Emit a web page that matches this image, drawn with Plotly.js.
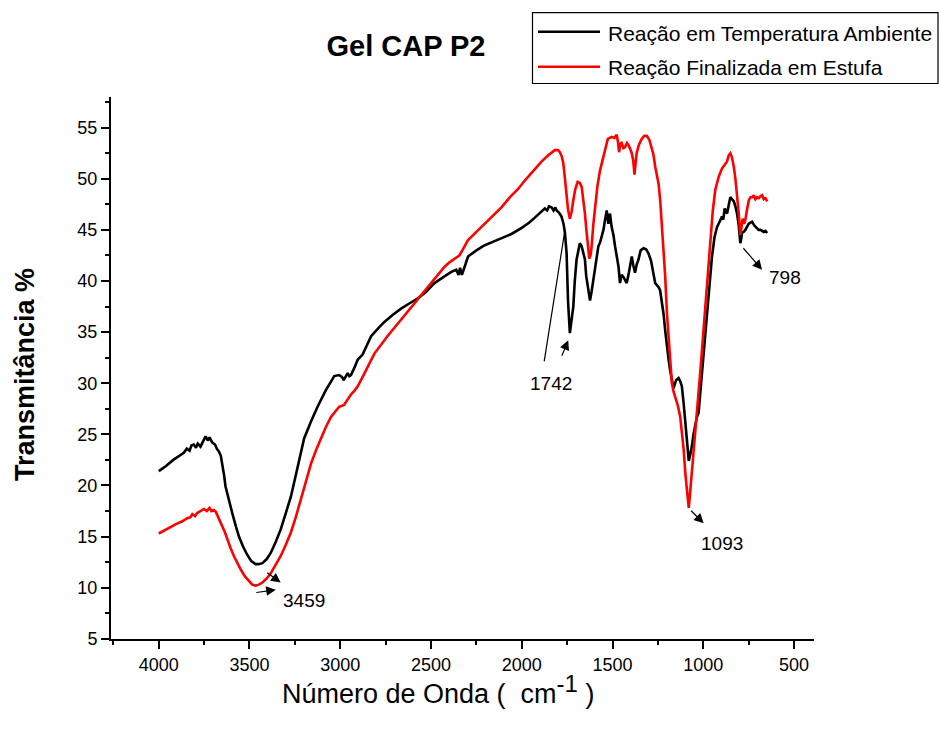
<!DOCTYPE html>
<html>
<head>
<meta charset="utf-8">
<script src="https://cdn.plot.ly/plotly-3.0.1.min.js"></script>
<style>html,body{margin:0;padding:0;background:#fff;}#chart{width:939px;height:729px;}</style>
</head>
<body>
<div id="chart"></div>
<script>
// ---------- DATA ----------
const seriesNames = ['Reação em Temperatura Ambiente', 'Reação Finalizada em Estufa'];

const ambWave = [4000,3960,3920,3880,3862,3845,3830,3820,3807,3795,3785,3770,3755,3742,3730,3720,3705,3690,3680,3668,3658,3650,3640,3632,3615,3595,3575,3558,3535,3512,3490,3466,3450,3429,3405,3383,3355,3328,3300,3272,3245,3217,3199,3160,3125,3080,3033,3006,2990,2981,2970,2959,2950,2941,2920,2904,2877,2850,2830,2790,2757,2710,2665,2620,2572,2530,2481,2430,2388,2361,2348,2340,2330,2322,2296,2250,2204,2150,2112,2057,2000,1960,1928,1900,1873,1860,1850,1836,1825,1815,1808,1795,1781,1770,1762,1753,1745,1735,1725,1716,1708,1698,1690,1680,1670,1660,1652,1645,1633,1624,1615,1606,1592,1578,1568,1560,1550,1541,1532,1523,1514,1505,1495,1486,1475,1467,1459,1450,1440,1430,1422,1412,1403,1394,1385,1376,1367,1357,1345,1329,1315,1302,1288,1274,1265,1256,1246,1238,1228,1219,1210,1201,1191,1182,1173,1164,1150,1136,1127,1118,1108,1099,1090,1080,1072,1063,1054,1044,1035,1026,1017,1007,995,980,966,952,938,924,910,897,890,882,875,869,860,851,842,832,823,814,805,796,790,787,778,768,750,731,718,704,695,685,676,667,657,648];
const ambT = [21.4,21.9,22.5,23.0,23.2,23.6,23.4,23.9,24.0,23.7,24.1,23.8,24.3,24.8,24.4,24.7,24.2,24.0,23.6,23.3,22.9,22.2,21.0,19.9,18.6,17.3,16.0,15.0,14.0,13.2,12.6,12.3,12.3,12.4,12.8,13.4,14.5,15.7,17.3,18.9,21.0,23.2,24.6,26.3,27.7,29.3,30.7,30.8,30.6,30.3,30.6,31.0,30.7,30.8,31.6,32.3,32.8,33.8,34.6,35.4,36.0,36.7,37.3,37.8,38.3,38.9,39.8,40.4,40.9,41.1,40.6,41.3,40.6,41.0,42.4,43.0,43.5,43.9,44.2,44.6,45.2,45.7,46.2,46.7,47.1,46.9,47.3,47.2,46.9,47.2,46.9,46.7,46.3,45.6,44.7,42.7,38.0,34.9,36.2,37.5,40.0,42.1,42.8,43.7,43.4,42.8,42.1,40.5,38.8,38.1,39.0,40.1,42.0,43.4,43.8,44.3,45.0,46.0,46.9,45.6,46.6,45.3,44.5,43.4,42.4,41.4,39.8,40.6,40.4,40.0,39.8,40.6,41.4,42.4,41.5,40.8,41.6,42.1,43.0,43.2,43.1,42.7,42.0,40.8,39.8,39.6,39.4,39.1,38.0,36.8,35.2,33.6,32.3,31.2,30.2,29.5,30.3,30.5,30.2,29.7,28.0,26.1,24.2,22.4,23.0,23.8,25.0,26.1,26.7,27.1,29.0,31.0,33.8,36.8,39.6,42.4,44.3,45.3,45.8,46.3,46.0,47.1,46.8,46.6,47.4,48.2,48.0,47.8,47.3,46.6,45.5,43.7,44.2,44.7,44.8,45.0,45.6,45.8,45.4,45.2,45.0,45.0,44.9,44.8,44.9,44.7];

const estWave = [4000,3950,3908,3870,3843,3825,3815,3800,3788,3770,3751,3735,3720,3710,3696,3685,3677,3665,3650,3635,3622,3605,3586,3570,3549,3525,3503,3485,3466,3448,3429,3405,3383,3355,3328,3300,3272,3245,3217,3190,3160,3130,3107,3080,3051,3025,3006,2990,2978,2960,2941,2920,2904,2880,2858,2835,2812,2740,2665,2590,2517,2470,2425,2400,2379,2360,2343,2320,2296,2250,2204,2160,2112,2065,2020,1980,1946,1928,1890,1854,1835,1818,1800,1790,1780,1771,1762,1753,1745,1735,1725,1716,1705,1692,1680,1670,1660,1652,1644,1637,1628,1620,1615,1606,1597,1583,1569,1560,1550,1538,1526,1515,1505,1490,1477,1470,1464,1457,1450,1440,1431,1420,1412,1402,1394,1386,1379,1373,1367,1355,1339,1325,1311,1297,1284,1275,1265,1256,1246,1237,1228,1219,1210,1200,1191,1182,1173,1164,1155,1140,1127,1118,1108,1098,1089,1080,1072,1063,1054,1044,1030,1017,1003,989,975,961,948,934,915,897,883,869,860,851,842,832,823,814,805,796,790,783,775,768,760,749,740,730,722,713,704,694,685,676,667,657,648];
const estT = [15.3,15.8,16.2,16.5,16.8,16.9,17.2,17.0,17.3,17.5,17.7,17.5,17.8,17.5,17.6,17.4,17.1,16.7,16.0,15.4,14.7,13.9,13.1,12.5,11.8,11.1,10.6,10.3,10.2,10.3,10.5,10.9,11.4,12.2,13.1,14.2,15.4,16.9,18.6,20.3,22.2,23.6,24.6,25.7,26.7,27.3,27.7,27.8,27.9,28.4,28.9,29.3,29.7,30.5,31.3,32.1,32.9,34.6,36.2,37.8,39.4,40.4,41.4,41.8,42.1,42.3,42.5,43.2,44.0,44.8,45.6,46.4,47.2,48.2,49.0,49.9,50.6,50.9,51.7,52.3,52.6,52.8,52.8,52.6,52.2,51.5,50.0,48.2,47.0,46.1,46.8,47.9,49.0,49.7,49.6,49.2,48.0,46.6,45.0,44.0,42.2,42.6,43.4,45.5,47.3,49.3,50.8,51.4,52.1,53.0,53.9,54.0,54.1,54.0,54.3,53.6,52.6,53.4,53.5,53.0,53.1,53.5,53.3,52.9,52.5,51.8,50.4,51.5,52.5,53.3,53.9,54.2,54.2,53.8,53.1,52.4,51.2,50.5,49.5,47.8,45.5,43.2,40.5,36.8,34.5,31.5,30.0,29.2,28.7,27.8,26.7,25.3,23.5,21.0,19.3,17.8,19.4,21.2,23.2,25.1,28.2,31.0,34.2,37.5,40.9,44.0,46.8,48.9,50.2,51.0,51.4,51.7,52.3,52.5,52.1,51.2,50.0,48.6,46.7,44.5,45.2,46.1,45.6,46.0,46.9,47.9,48.2,48.2,48.4,48.0,48.2,48.1,48.3,48.4,48.0,48.1,47.8];

const xTickVals = [4000,3500,3000,2500,2000,1500,1000,500];
const yTickVals = [5,10,15,20,25,30,35,40,45,50,55];
const peakLabels = ['3459','1742','1093','798'];

// ---------- LAYOUT HELPERS ----------
const FONT = 'Liberation Sans, Arial, Helvetica, sans-serif';
const W = 939, H = 729, ML = 111, MR = 125, MT = 97, MB = 90;
const PW = W - ML - MR, PH = H - MT - MB;
const px2x = p => (p - ML) / PW;
const py2y = p => (H - MB - p) / PH;

const traces = [
  {x: ambWave, y: ambT, name: seriesNames[0], type: 'scatter', mode: 'lines',
   line: {color: '#000000', width: 2.6}},
  {x: estWave, y: estT, name: seriesNames[1], type: 'scatter', mode: 'lines',
   line: {color: '#ff0000', width: 2.6}}
];

const annFont = {family: FONT, size: 19, color: '#000'};
const arrow = (x, y, ax, ay, head) => ({x, y, ax, ay, xref: 'x', yref: 'y', text: '',
  showarrow: true, arrowhead: head, arrowsize: 1.6, arrowwidth: 1.2, arrowcolor: '#000', standoff: 0});

const annotations = [
  // peak labels
  {x: 3201, y: 8.7, xref: 'x', yref: 'y', text: peakLabels[0], showarrow: false, font: annFont},
  {x: 1841, y: 30.0, xref: 'x', yref: 'y', text: peakLabels[1], showarrow: false, font: annFont},
  {x: 897, y: 14.3, xref: 'x', yref: 'y', text: peakLabels[2], showarrow: false, font: annFont},
  {x: 551, y: 40.3, xref: 'x', yref: 'y', text: peakLabels[3], showarrow: false, font: annFont},
  // arrows
  arrow(3355, 9.8, -21, 3, 2),
  arrow(3328, 10.5, -15, -11, 2),
  arrow(1762, 45.0, -21, 133, 0),
  arrow(1744, 34.2, -7, 17, 2),
  arrow(998, 16.3, -14, -14, 2),
  arrow(676, 41.1, -20, -23, 2),
  // axis titles
  {x: px2x(25), y: py2y(375), xref: 'paper', yref: 'paper', xanchor: 'center', yanchor: 'middle',
   text: '<b>Transmitância %</b>',
   textangle: -90, showarrow: false, font: {family: FONT, size: 27, color: '#000'}},
  {x: px2x(438), y: py2y(711), xref: 'paper', yref: 'paper',
   text: 'Número de Onda (\u00a0\u00a0cm<sup><span style="font-size:24px">-1</span></sup> )', showarrow: false,
   font: {family: FONT, size: 27, color: '#000'}},
  // legend texts
  {x: px2x(606), y: py2y(33), xref: 'paper', yref: 'paper', xanchor: 'left', yanchor: 'middle',
   text: seriesNames[0], showarrow: false, font: {family: FONT, size: 21, color: '#000'}},
  {x: px2x(606), y: py2y(68), xref: 'paper', yref: 'paper', xanchor: 'left', yanchor: 'middle',
   text: seriesNames[1], showarrow: false, font: {family: FONT, size: 21, color: '#000'}}
];

const shapes = [
  {type: 'rect', xref: 'paper', yref: 'paper', x0: px2x(532.5), x1: px2x(938), y0: py2y(83.5), y1: py2y(12.7),
   line: {color: '#000', width: 1.2}, fillcolor: 'rgba(0,0,0,0)'},
  {type: 'line', xref: 'paper', yref: 'paper', x0: px2x(538), x1: px2x(600), y0: py2y(31.7), y1: py2y(31.7),
   line: {color: '#000', width: 2.6}},
  {type: 'line', xref: 'paper', yref: 'paper', x0: px2x(538), x1: px2x(600), y0: py2y(66.7), y1: py2y(66.7),
   line: {color: '#ff0000', width: 2.6}}
];

const layout = {
  width: W, height: H,
  margin: {l: ML, r: MR, t: MT, b: MB, pad: 0},
  paper_bgcolor: '#fff', plot_bgcolor: '#fff',
  showlegend: false,
  title: {text: '<b>Gel CAP P2</b>', font: {family: FONT, size: 29, color: '#000'},
          x: 406 / W, xref: 'container', xanchor: 'center', y: 1 - 46 / H, yref: 'container', yanchor: 'middle'},
  font: {family: FONT, color: '#000'},
  xaxis: {range: [4263, 390], tickvals: xTickVals, ticks: 'outside', ticklen: 8, tickwidth: 2, tickcolor: '#000',
          showline: true, linewidth: 2, linecolor: '#000', showgrid: false, zeroline: false,
          tickfont: {family: FONT, size: 18, color: '#000'},
          minor: {dtick: 250, tick0: 0, ticks: 'outside', ticklen: 4, tickwidth: 2, tickcolor: '#000', showgrid: false}},
  yaxis: {range: [4.98, 58], tickvals: yTickVals, ticks: 'outside', ticklen: 8, tickwidth: 2, tickcolor: '#000',
          showline: true, linewidth: 2, linecolor: '#000', showgrid: false, zeroline: false,
          tickfont: {family: FONT, size: 18, color: '#000'},
          minor: {dtick: 2.5, tick0: 0, ticks: 'outside', ticklen: 4, tickwidth: 2, tickcolor: '#000', showgrid: false}},
  annotations: annotations,
  shapes: shapes
};

Plotly.newPlot('chart', traces, layout, {displayModeBar: false, staticPlot: true});
</script>
</body>
</html>
